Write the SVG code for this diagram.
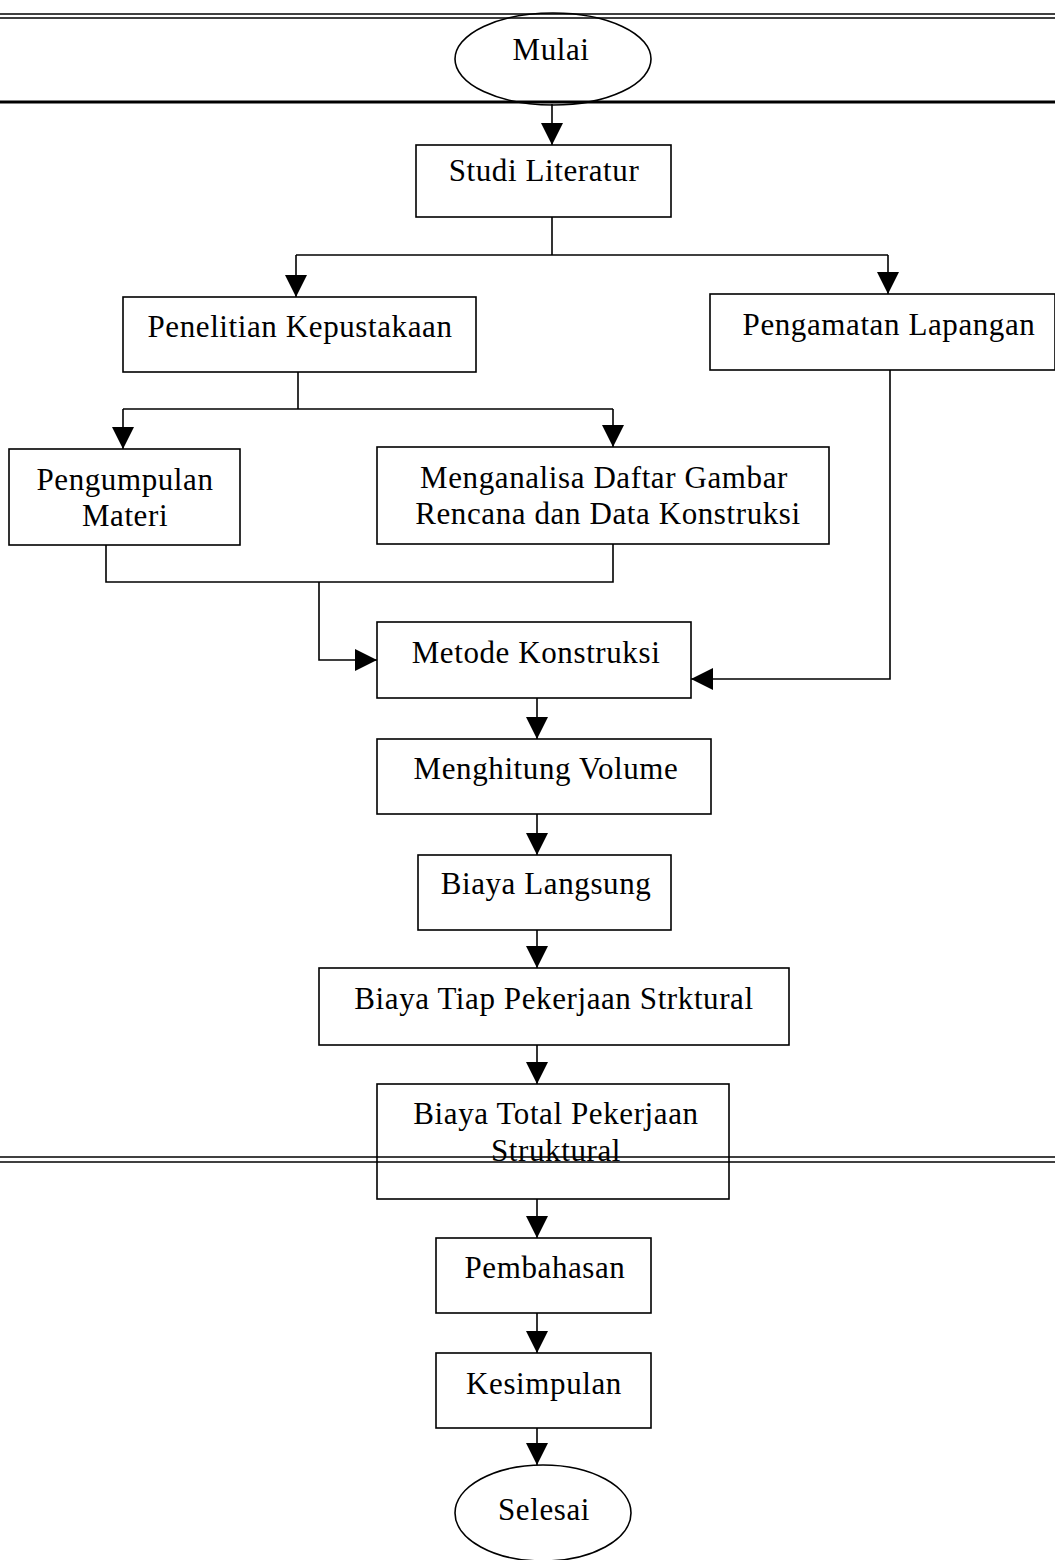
<svg xmlns="http://www.w3.org/2000/svg" width="1055" height="1560" viewBox="0 0 1055 1560">
<style>
.box{fill:#fff;stroke:#000;stroke-width:1.6}
.t{font-family:"Liberation Serif","Times New Roman",serif;font-size:31px;letter-spacing:0.6px;fill:#000;text-anchor:middle}
.c{fill:none;stroke:#000;stroke-width:1.6}
.rule{stroke:#000;fill:none}
</style>
<defs>
<marker id="ah" markerUnits="userSpaceOnUse" markerWidth="22" markerHeight="22" viewBox="0 0 22 22" refX="22" refY="11" orient="auto">
<path d="M0,0 L22,11 L0,22 Z" fill="#000"/>
</marker>
</defs>
<g id="rules">
<line class="rule" x1="0" y1="14" x2="1055" y2="14" stroke-width="1.5"/>
<line class="rule" x1="0" y1="18" x2="1055" y2="18" stroke-width="1.5"/>
<line class="rule" x1="0" y1="102" x2="1055" y2="102" stroke-width="3"/>
</g>
<g id="connectors">
<line class="c" x1="552" y1="104" x2="552" y2="145" marker-end="url(#ah)"/>
<polyline class="c" points="552,217 552,255"/>
<line class="c" x1="296" y1="255" x2="888" y2="255"/>
<line class="c" x1="296" y1="255" x2="296" y2="297" marker-end="url(#ah)"/>
<line class="c" x1="888" y1="255" x2="888" y2="294" marker-end="url(#ah)"/>
<polyline class="c" points="298,372 298,409"/>
<line class="c" x1="123" y1="409" x2="613" y2="409"/>
<line class="c" x1="123" y1="409" x2="123" y2="449" marker-end="url(#ah)"/>
<line class="c" x1="613" y1="409" x2="613" y2="447" marker-end="url(#ah)"/>
<polyline class="c" points="106,545 106,582 613,582 613,544"/>
<polyline class="c" points="319,582 319,660 377,660" marker-end="url(#ah)"/>
<polyline class="c" points="890,370 890,679 691,679" marker-end="url(#ah)"/>
<line class="c" x1="537" y1="698" x2="537" y2="739" marker-end="url(#ah)"/>
<line class="c" x1="537" y1="814" x2="537" y2="855" marker-end="url(#ah)"/>
<line class="c" x1="537" y1="930" x2="537" y2="968" marker-end="url(#ah)"/>
<line class="c" x1="537" y1="1045" x2="537" y2="1084" marker-end="url(#ah)"/>
<line class="c" x1="537" y1="1199" x2="537" y2="1238" marker-end="url(#ah)"/>
<line class="c" x1="537" y1="1313" x2="537" y2="1353" marker-end="url(#ah)"/>
<line class="c" x1="537" y1="1428" x2="537" y2="1465" marker-end="url(#ah)"/>
</g>
<g id="mulai">
<ellipse cx="553" cy="59" rx="98" ry="46" fill="none" stroke="#000" stroke-width="1.6"/>
<text class="t" x="551" y="60">Mulai</text>
</g>
<g id="studi">
<rect class="box" x="416" y="145" width="255" height="72"/>
<text class="t" x="544" y="181">Studi Literatur</text>
</g>
<g id="penelitian">
<rect class="box" x="123" y="297" width="353" height="75"/>
<text class="t" x="300" y="337">Penelitian Kepustakaan</text>
</g>
<g id="pengamatan">
<rect class="box" x="710" y="294" width="345" height="76"/>
<text class="t" x="889" y="335">Pengamatan Lapangan</text>
</g>
<g id="pengumpulan">
<rect class="box" x="9" y="449" width="231" height="96"/>
<text class="t" x="125" y="490">Pengumpulan</text>
<text class="t" x="125" y="526">Materi</text>
</g>
<g id="menganalisa">
<rect class="box" x="377" y="447" width="452" height="97"/>
<text class="t" x="604" y="488">Menganalisa Daftar Gambar</text>
<text class="t" x="608" y="524">Rencana dan Data Konstruksi</text>
</g>
<g id="metode">
<rect class="box" x="377" y="622" width="314" height="76"/>
<text class="t" x="536" y="663">Metode Konstruksi</text>
</g>
<g id="menghitung">
<rect class="box" x="377" y="739" width="334" height="75"/>
<text class="t" x="546" y="779">Menghitung Volume</text>
</g>
<g id="biayalangsung">
<rect class="box" x="418" y="855" width="253" height="75"/>
<text class="t" x="546" y="894">Biaya Langsung</text>
</g>
<g id="biayatiap">
<rect class="box" x="319" y="968" width="470" height="77"/>
<text class="t" x="554" y="1009">Biaya Tiap Pekerjaan Strktural</text>
</g>
<g id="biayatotal">
<rect class="box" x="377" y="1084" width="352" height="115"/>
<text class="t" x="556" y="1124">Biaya Total Pekerjaan</text>
<text class="t" x="556" y="1161">Struktural</text>
</g>
<g id="rules2">
<line class="rule" x1="0" y1="1157" x2="1055" y2="1157" stroke-width="1.5"/>
<line class="rule" x1="0" y1="1162" x2="1055" y2="1162" stroke-width="1.5"/>
</g>
<g id="pembahasan">
<rect class="box" x="436" y="1238" width="215" height="75"/>
<text class="t" x="545" y="1278">Pembahasan</text>
</g>
<g id="kesimpulan">
<rect class="box" x="436" y="1353" width="215" height="75"/>
<text class="t" x="544" y="1394">Kesimpulan</text>
</g>
<g id="selesai">
<ellipse cx="543" cy="1513" rx="88" ry="48" fill="#fff" stroke="#000" stroke-width="1.6"/>
<text class="t" x="544" y="1520">Selesai</text>
</g>
</svg>
